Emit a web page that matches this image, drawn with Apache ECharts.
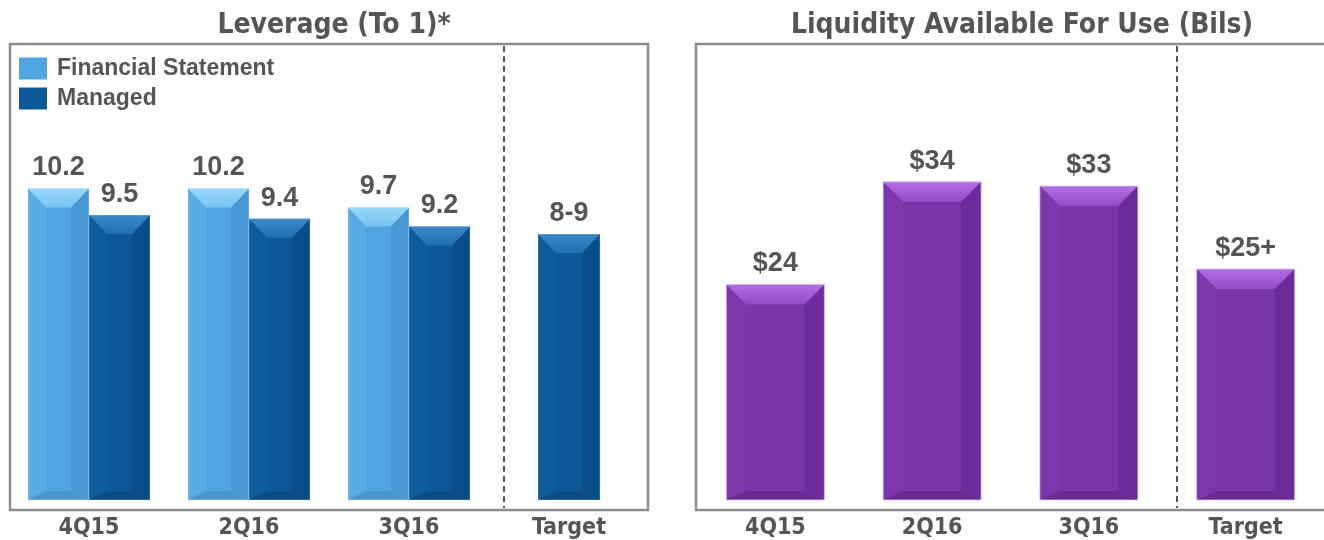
<!DOCTYPE html>
<html>
<head>
<meta charset="utf-8">
<script src="https://cdn.jsdelivr.net/npm/echarts@6/dist/echarts.min.js"></script>
<style>
html,body{margin:0;padding:0;background:#fff;}
#chart{width:1324px;height:540px;}
</style>
</head>
<body>
<div id="chart"></div>
<script>
// ---- data ----
const categories = ['4Q15', '2Q16', '3Q16', 'Target'];
const leverageFS = [10.2, 10.2, 9.7, null];
const leverageManaged = [9.5, 9.4, 9.2, null];
const leverageTarget = [null, null, null, 9];
const leverageFSLabels = ['10.2', '10.2', '9.7', ''];
const leverageManagedLabels = ['9.5', '9.4', '9.2', ''];
const leverageTargetLabels = ['', '', '', '8-9'];
const liquidity = [23.8, 33.7, 33.3, 25.3];
const liquidityLabels = ['$24', '$34', '$33', '$25+'];
const titles = ['Leverage (To 1)*', 'Liquidity Available For Use (Bils)'];
const legendNames = ['Financial Statement', 'Managed'];

// ---- styling ----
const NARROW = '"Liberation Sans Narrow", "DejaVu Sans Condensed", "Roboto", sans-serif';
const SANS = '"Liberation Sans", Arial, sans-serif';
const TXT = '#555555';

const PAL = {
  fs:      { main: '#50a6e0', top: '#98d9f8', topB: '#78c3ef', left: '#56abe3', right: '#4697d3', bottom: '#4a95cc', edge: 'rgba(255,255,255,0.35)' },
  managed: { main: '#0d5897', top: '#3b88c6', topB: '#2270b0', left: '#0f5c9c', right: '#0a4e89', bottom: '#0b4c84', edge: 'rgba(255,255,255,0.25)' },
  purple:  { main: '#7936a8', top: '#b070e2', topB: '#934bc6', left: '#7c38ab', right: '#6c2d9c', bottom: '#682c93', edge: 'rgba(230,210,245,0.7)' }
};

function toData(arr) {
  return arr.map((v, i) => [i, v]).filter(d => d[1] !== null && d[1] !== undefined);
}

function bevelRender(pal, widthFrac, offsetMode, labels, bev) {
  return function (params, api) {
    const i = api.value(0), v = api.value(1);
    if (v === null || isNaN(v)) return null;
    const band = api.size([1, 0])[0];
    const pt = api.coord([i, v]);
    const cs = params.coordSys;
    const baseY = cs.y + cs.height;
    const w = band * widthFrac;
    let x0;
    if (offsetMode === 'left') x0 = pt[0] - w;
    else if (offsetMode === 'right') x0 = pt[0];
    else x0 = pt[0] - w / 2;
    const x1 = x0 + w, y0 = pt[1], y1 = baseY;
    const h = y1 - y0;
    const bt = Math.min(bev.top, h / 2), bs = Math.min(bev.side, w / 3), bb = Math.min(bev.bottom, h / 3);
    const children = [
      { type: 'rect', shape: { x: x0, y: y0, width: w, height: h }, style: { fill: pal.main } },
      { type: 'polygon', shape: { points: [[x0, y0], [x0 + bs, y0 + bt], [x0 + bs, y1 - bb], [x0, y1]] }, style: { fill: pal.left } },
      { type: 'polygon', shape: { points: [[x1, y0], [x1 - bs, y0 + bt], [x1 - bs, y1 - bb], [x1, y1]] }, style: { fill: pal.right } },
      { type: 'polygon', shape: { points: [[x0, y1], [x0 + bs, y1 - bb], [x1 - bs, y1 - bb], [x1, y1]] }, style: { fill: pal.bottom } },
      { type: 'polygon', shape: { points: [[x0, y0], [x1, y0], [x1 - bs, y0 + bt], [x0 + bs, y0 + bt]] },
        style: { fill: new echarts.graphic.LinearGradient(0, 0, 0, 1, [{ offset: 0, color: pal.top }, { offset: 1, color: pal.topB }]) } },
      { type: 'rect', shape: { x: x0, y: y0, width: w, height: h }, style: { fill: 'none', stroke: pal.edge, lineWidth: 1 } },
      { type: 'text', style: { text: labels[i], x: (x0 + x1) / 2, y: y0 - 7, align: 'center', verticalAlign: 'bottom',
        font: 'bold 27px ' + SANS, fill: TXT } }
    ];
    return { type: 'group', children: children };
  };
}

const axisLabelStyle = { show: true, color: TXT, fontFamily: NARROW, fontWeight: 'bold', fontSize: 23, margin: 17 };

const option = {
  backgroundColor: '#ffffff',
  animation: false,
  title: [
    { text: titles[0], left: 329, top: 7, textAlign: 'center', textStyle: { fontFamily: NARROW, fontWeight: 'bold', fontSize: 28, color: TXT } },
    { text: titles[1], left: 1017, top: 7, textAlign: 'center', textStyle: { fontFamily: NARROW, fontWeight: 'bold', fontSize: 28, color: TXT } }
  ],
  legend: {
    data: legendNames,
    orient: 'vertical', left: 19, top: 57, itemWidth: 28, itemHeight: 22, itemGap: 7,
    icon: 'rect', padding: 0,
    textStyle: { fontFamily: SANS, fontWeight: 'bold', fontSize: 23, color: TXT, padding: [0, 0, 0, 5] },
    selectedMode: false
  },
  grid: [
    { left: 9, top: 44, width: 640, height: 459 },
    { left: 697, top: 44, width: 640, height: 460 }
  ],
  xAxis: [
    { type: 'category', gridIndex: 0, data: categories, axisLine: { show: false }, axisTick: { show: false }, axisLabel: axisLabelStyle },
    { type: 'category', gridIndex: 1, data: categories, axisLine: { show: false }, axisTick: { show: false }, axisLabel: axisLabelStyle }
  ],
  yAxis: [
    { type: 'value', gridIndex: 0, min: 2, max: 14, show: false, splitLine: { show: false } },
    { type: 'value', gridIndex: 1, min: 3, max: 47, show: false, splitLine: { show: false } }
  ],
  series: [
    { type: 'custom', name: legendNames[0], xAxisIndex: 0, yAxisIndex: 0, data: toData(leverageFS), encode: { x: 0, y: 1 },
      itemStyle: { color: PAL.fs.main }, clip: false,
      renderItem: bevelRender(PAL.fs, 61 / 160, 'left', leverageFSLabels, { top: 19, side: 18, bottom: 9 }) },
    { type: 'custom', name: legendNames[1], xAxisIndex: 0, yAxisIndex: 0, data: toData(leverageManaged), encode: { x: 0, y: 1 },
      itemStyle: { color: PAL.managed.main }, clip: false,
      renderItem: bevelRender(PAL.managed, 61 / 160, 'right', leverageManagedLabels, { top: 19, side: 18, bottom: 9 }) },
    { type: 'custom', name: 'Managed Target', xAxisIndex: 0, yAxisIndex: 0, data: toData(leverageTarget), encode: { x: 0, y: 1 },
      itemStyle: { color: PAL.managed.main }, clip: false,
      renderItem: bevelRender(PAL.managed, 62 / 160, 'center', leverageTargetLabels, { top: 19, side: 18, bottom: 9 }) },
    { type: 'custom', name: 'Liquidity', xAxisIndex: 1, yAxisIndex: 1, data: toData(liquidity), encode: { x: 0, y: 1 },
      itemStyle: { color: PAL.purple.main }, clip: false,
      renderItem: bevelRender(PAL.purple, 100 / 160, 'center', liquidityLabels, { top: 20, side: 20, bottom: 9 }) }
  ],
  graphic: [
    { type: 'rect', z: -10, shape: { x: 10, y: 44, width: 638, height: 466 }, style: { fill: 'none', stroke: '#8c8c8c', lineWidth: 2.5 } },
    { type: 'rect', z: -10, shape: { x: 696, y: 44, width: 660, height: 466 }, style: { fill: 'none', stroke: '#8c8c8c', lineWidth: 2.5 } },
    { type: 'line', z: -5, shape: { x1: 504, y1: 46, x2: 504, y2: 508 }, style: { stroke: '#222', lineWidth: 1.5, lineDash: [6, 4] } },
    { type: 'line', z: -5, shape: { x1: 1177, y1: 46, x2: 1177, y2: 508 }, style: { stroke: '#222', lineWidth: 1.5, lineDash: [6, 4] } }
  ]
};

const chart = echarts.init(document.getElementById('chart'), null, { renderer: 'canvas' });
chart.setOption(option);
</script>
</body>
</html>
